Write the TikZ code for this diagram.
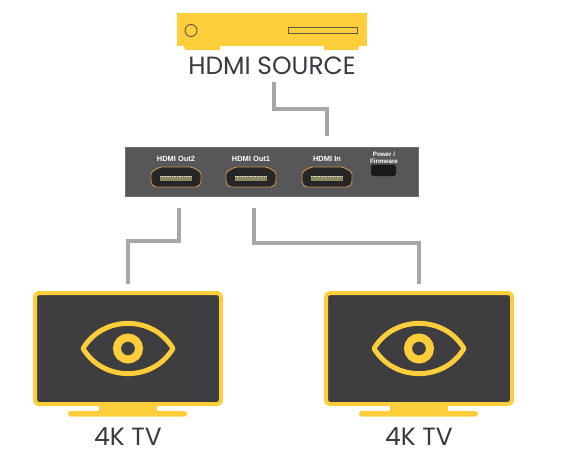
\documentclass[tikz,border=0pt]{standalone}
\usepackage{fontspec}
\setmainfont{Poppins}
\newfontfamily\portfont{Liberation Sans}
\definecolor{signyellow}{HTML}{FFCE3A}
\definecolor{boxgray}{HTML}{57575A}
\definecolor{screengray}{HTML}{3E3D40}
\definecolor{cablegray}{HTML}{A7A7A9}
\definecolor{labelgray}{HTML}{3A3A42}
\definecolor{portrim}{HTML}{C8924A}
\definecolor{pinolive}{HTML}{8C8A62}
\tikzset{
    cable/.style={cablegray, line width=3.2pt, line join=miter},
    bigtext/.style={text=labelgray, font=\fontsize{18.7}{20}\selectfont, inner sep=0pt},
    portlabel/.style={text=white, font=\portfont\bfseries\fontsize{5.6}{6}\selectfont, inner sep=0pt, align=center},
}
\begin{document}
\begin{tikzpicture}[x=0.75pt, y=-0.75pt]
    \useasboundingbox (0,0) rectangle (561,467);

    % 1. HDMI source
    \node[fill=signyellow, minimum width=142.5pt, minimum height=24.75pt, inner sep=0pt] (source) at (272,29.5) {};
    \fill[signyellow] (184,46) -- (185,50) -- (220,50) -- (220,46) -- cycle;
    \fill[signyellow] (324,46) -- (324,50) -- (358,50) -- (359,46) -- cycle;
    \draw[labelgray!80!signyellow, line width=0.7pt] (191,30.5) circle (6);
    \draw[labelgray!80!signyellow, line width=0.7pt] (288,27.5) rectangle (357,33);
    \node[bigtext] (sourcelabel) at (272,66) {HDMI SOURCE};

    % 2. Switch with its ports
    \node[fill=boxgray, draw=boxgray!85!white, line width=0.5pt, minimum width=220pt, minimum height=36.5pt, inner sep=0pt] (switch) at (272,171.5) {};
    \foreach \x/\name/\txt in {176/outtwo/HDMI Out2, 251/outone/HDMI Out1, 327/hdmiin/HDMI In}
    {
        \draw[portrim, fill=black!85, line width=0.7pt, rounded corners=1.5pt]
            (\x-16,167) -- (\x+16,167) -- (\x+25,172) -- (\x+25,183) -- (\x+22,187) -- (\x-22,187) -- (\x-25,183) -- (\x-25,172) -- cycle;
        \fill[pinolive] (\x-16,176) rectangle (\x+16,181);
        \draw[white!75!pinolive, line width=1pt, dash pattern=on 1pt off 0.8pt] (\x-16,176.5) -- (\x+16,176.5);
        \node[portlabel] (\name) at (\x,159) {\txt};
    }
    \fill[black!90, rounded corners=2pt] (371,164.5) rectangle (396,176);
    \node[portlabel, font=\portfont\bfseries\fontsize{4.7}{5}\selectfont] (power) at (384,158) {Power /\\Firmware};

    % 3. Two 4K TVs
    \foreach \x/\name in {128/tvleft, 419/tvright}
    {
        \fill[signyellow] (\x-29,405) rectangle (\x+29,412);
        \fill[signyellow, rounded corners=2pt] (\x-60,411) rectangle (\x+59,416.5);
        \node[fill=screengray, draw=signyellow, line width=3pt, rounded corners=3pt, minimum width=139.5pt, minimum height=83.25pt, inner sep=0pt] (\name) at (\x,348.5) {};
        % eye
        \draw[signyellow, line width=3.7pt, line join=round]
            (\x-45,348.5) .. controls (\x-25,315) and (\x+25,315) .. (\x+45,348.5)
            .. controls (\x+25,382) and (\x-25,382) .. cycle;
        \draw[signyellow, line width=6pt] (\x,348.5) circle (11);
        \node[bigtext] (\name label) at (\x,437) {4K TV};
    }

    % 4. Cables
    \coordinate (srcend) at (274,82);
    \coordinate (inend) at (327,136);
    \coordinate (outtwoend) at (179,208);
    \coordinate (tvleftend) at (128,284);
    \coordinate (outoneend) at (254,208);
    \coordinate (tvrightend) at (419,284);
    \draw[cable] (srcend) -- (274,109) -- (327,109) -- (inend);
    \draw[cable] (outtwoend) -- (179,241) -- (128,241) -- (tvleftend);
    \draw[cable] (outoneend) -- (254,243) -- (419,243) -- (tvrightend);
\end{tikzpicture}
\end{document}
